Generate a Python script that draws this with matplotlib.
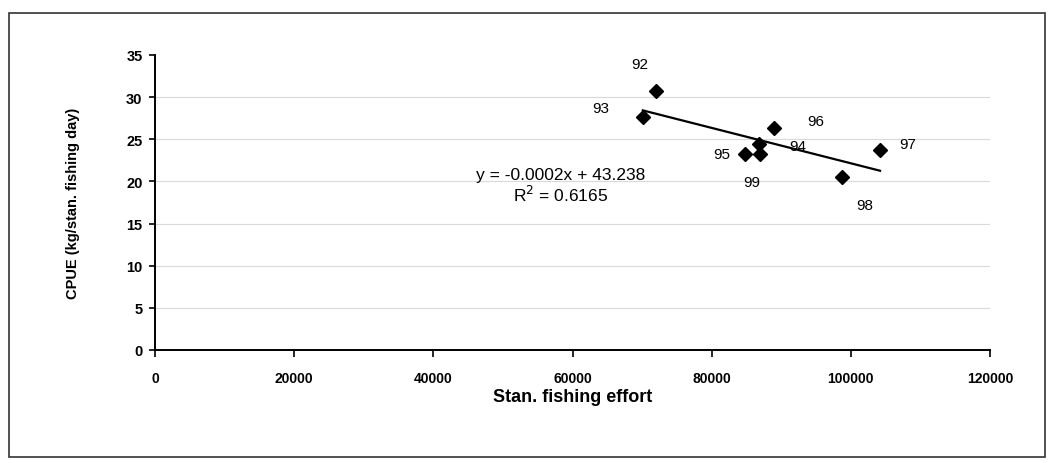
import numpy as np
import matplotlib
matplotlib.use("Agg")
import matplotlib.pyplot as plt
from matplotlib.patches import Rectangle

# Season labels and observations
years = ["92", "93", "94", "95", "96", "97", "98", "99"]
effort = [72000, 70100, 86800, 84800, 88900, 104200, 98700, 86900]
cpue = [30.7, 27.7, 24.5, 23.2, 26.3, 23.7, 20.5, 23.2]

# Label offsets (pixels) from each point
label_dx = [-16, -42, 39, -23, 42, 28, 23, -8]
label_dy = [27, 9, -3, 0, 7, 6, -28, -28]

x_ticks = [0, 20000, 40000, 60000, 80000, 100000, 120000]
y_ticks = [0, 5, 10, 15, 20, 25, 30, 35]

W, H = 1049, 464
fig = plt.figure(figsize=(W / 100, H / 100), dpi=100)
fig.patch.set_facecolor("white")

# Outer frame around the chart
fig.patches.append(Rectangle((9 / W, 1 - 458 / H), (1045 - 9) / W, (458 - 14) / H,
                             transform=fig.transFigure, fill=False,
                             edgecolor="#333333", linewidth=1.2))

left, right, bottom, top = 155, 990, 351, 56
ax = fig.add_axes([left / W, 1 - bottom / H, (right - left) / W, (bottom - top) / H])

ax.set_xlim(0, 120000)
ax.set_ylim(0, 35)
ax.set_xticks(x_ticks)
ax.set_yticks(y_ticks)
ax.set_xticklabels([str(v) for v in x_ticks], family="Liberation Sans",
                   fontweight="bold", fontsize=10)
ax.set_yticklabels([str(v) for v in y_ticks], family="Liberation Sans",
                   fontweight="bold", fontsize=10.5)

for s in ["top", "right"]:
    ax.spines[s].set_visible(False)
for s in ["left", "bottom"]:
    ax.spines[s].set_color("black")
    ax.spines[s].set_linewidth(1.4)
ax.tick_params(axis="y", direction="out", length=4, width=1.2, pad=5)
ax.tick_params(axis="x", direction="out", length=5, width=1.2, pad=10)

for v in y_ticks[1:-1]:
    ax.axhline(v, color="#d9d9d9", linewidth=0.8, zorder=0)

# Data points
ax.plot(effort, cpue, linestyle="none", marker="D", markersize=7.5,
        color="black", zorder=3)

# Least-squares trend line over the data range
slope, intercept = np.polyfit(effort, cpue, 1)
xs = np.array([min(effort), max(effort)])
ax.plot(xs, slope * xs + intercept, color="black", linewidth=1.6, zorder=2)

for yr, x, y, dx, dy in zip(years, effort, cpue, label_dx, label_dy):
    ax.annotate(yr, (x, y), xytext=(dx, dy), textcoords="offset pixels",
                ha="center", va="center", fontsize=11, family="Liberation Sans")

# Trend equation
fig.text(561 / W, 1 - 176 / H, "y = -0.0002x + 43.238",
         ha="center", va="center", fontsize=12.5, family="Liberation Sans")
fig.text(561 / W, 1 - 195 / H, "R$^2$ = 0.6165",
         ha="center", va="center", fontsize=12.5, family="Liberation Sans")

ax.set_xlabel("Stan. fishing effort", family="Liberation Sans",
              fontweight="bold", fontsize=13, labelpad=2)
ax.set_ylabel("CPUE (kg/stan. fishing day)", family="Liberation Sans",
              fontweight="bold", fontsize=10.5)
ax.yaxis.set_label_coords((80 - left) / (right - left), 0.5)

fig.savefig("out.png", dpi=100, facecolor="white")
